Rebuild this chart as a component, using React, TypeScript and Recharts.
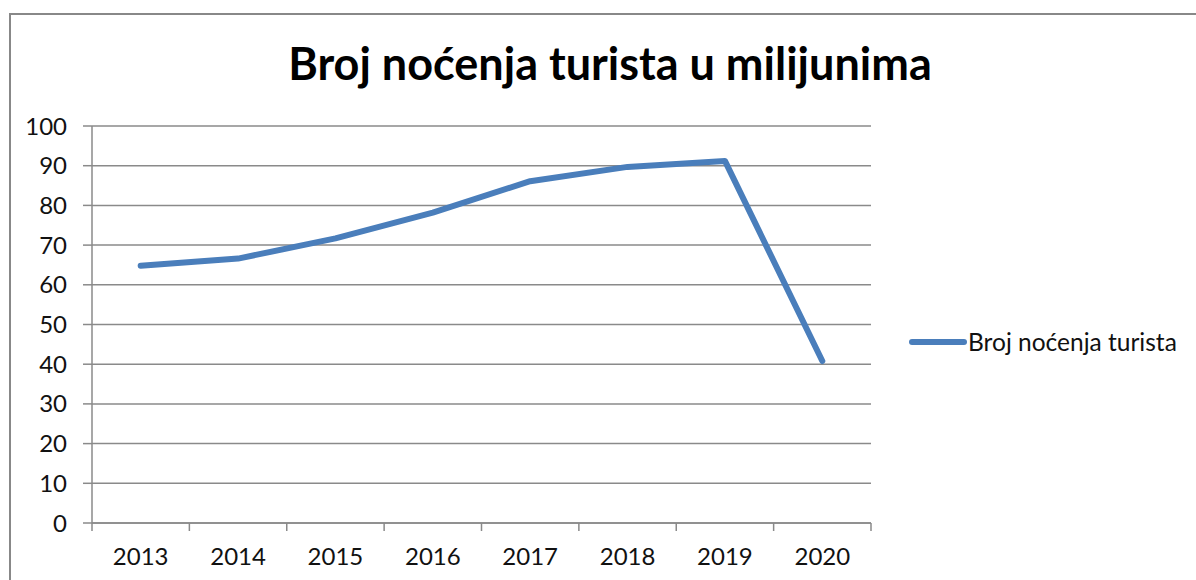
import React from 'react';
import { LineChart, Line, XAxis, YAxis, CartesianGrid, Legend } from 'recharts';

const years = ['2013', '2014', '2015', '2016', '2017', '2018', '2019', '2020'];
const nights = [64.8, 66.6, 71.7, 78.2, 86.1, 89.7, 91.2, 40.8];
const yTicks = [0, 10, 20, 30, 40, 50, 60, 70, 80, 90, 100];
const seriesName = 'Broj noćenja turista';
const title = 'Broj noćenja turista u milijunima';

const data = years.map((y, i) => ({ year: y, value: nights[i] }));

const FONT = 'Lato, "Open Sans", sans-serif';
const GRID = '#8a8a8a';

const XTick = (props: any) => {
  const { x, y, payload, index, visibleTicksCount } = props;
  const off = payload?.offset ?? 0;
  const axisY = y - 8;
  return (
    <g>
      <line x1={x - off} x2={x - off} y1={axisY} y2={axisY + 8} stroke={GRID} strokeWidth={1.5} />
      {index === visibleTicksCount - 1 && (
        <line x1={x + off} x2={x + off} y1={axisY} y2={axisY + 8} stroke={GRID} strokeWidth={1.5} />
      )}
      <text x={x} y={axisY + 42} textAnchor="middle" fontSize={24} fontFamily={FONT} fill="#111">
        {payload.value}
      </text>
    </g>
  );
};

const LegendContent = () => (
  <div style={{ display: 'flex', flexWrap: 'nowrap', whiteSpace: 'nowrap', alignItems: 'center', fontFamily: FONT, fontSize: 24.5, color: '#111' }}>
    <svg width={58} height={10} style={{ marginLeft: 38, flex: 'none' }}>
      <line x1={3} x2={55} y1={5} y2={5} stroke="#4A7EBB" strokeWidth={6} strokeLinecap="round" />
    </svg>
    <span style={{ marginLeft: 1 }}>{seriesName}</span>
  </div>
);

export default function App() {
  return (
    <div style={{ position: 'absolute', left: 0, top: 0, width: 1196, height: 580, overflow: 'hidden', background: '#fff' }}>
      <div style={{ position: 'absolute', left: 9, top: 13, width: 1300, height: 700, border: '2px solid #888', boxSizing: 'border-box' }} />
      <div style={{ position: 'absolute', left: 0, top: 36, width: 1220, textAlign: 'center', fontFamily: FONT, fontWeight: 700, fontSize: 45, color: '#000' }}>
        {title}
      </div>
      <div style={{ position: 'absolute', left: 0, top: 0 }}>
        <LineChart width={1196} height={580} data={data} margin={{ top: 126, right: 25, bottom: 0, left: 0 }}>
          <CartesianGrid vertical={false} stroke={GRID} strokeWidth={1.5} />
          <XAxis
            dataKey="year"
            scale="band"
            height={57}
            axisLine={{ stroke: GRID, strokeWidth: 1.5 }}
            tickLine={false}
            tick={<XTick />}
            interval={0}
          />
          <YAxis
            domain={[0, 100]}
            ticks={yTicks}
            width={92}
            interval={0}
            axisLine={{ stroke: GRID, strokeWidth: 1.5 }}
            tickLine={{ stroke: GRID, strokeWidth: 1.5 }}
            tickSize={9}
            tickMargin={16}
            tick={{ fontSize: 24, fontFamily: FONT, fill: '#111' }}
          />
          <Legend
            layout="vertical"
            align="right"
            verticalAlign="middle"
            content={<LegendContent />}
            wrapperStyle={{ width: 300, top: 327 }}
          />
          <Line
            type="linear"
            dataKey="value"
            name={seriesName}
            stroke="#4A7EBB"
            strokeWidth={6}
            strokeLinecap="round"
            strokeLinejoin="round"
            dot={false}
            activeDot={false}
            isAnimationActive={false}
          />
        </LineChart>
      </div>
    </div>
  );
}
